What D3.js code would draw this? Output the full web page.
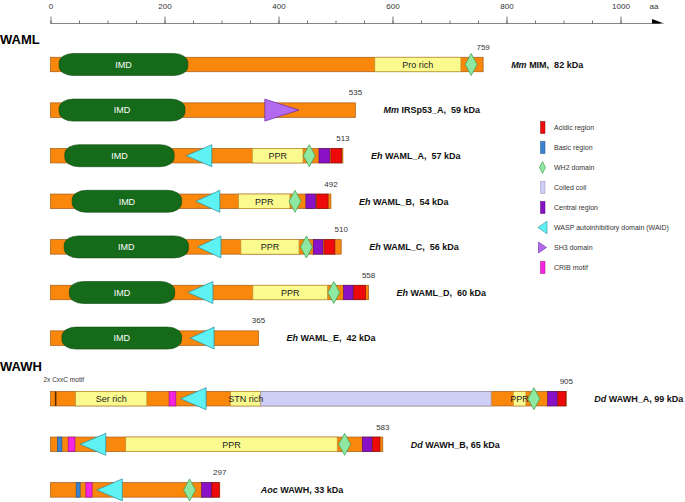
<!DOCTYPE html>
<html>
<head>
<meta charset="utf-8">
<script src="https://cdn.jsdelivr.net/npm/d3@7"></script>
<style>
  html, body { margin: 0; padding: 0; background: #fff; }
  svg { display: block; font-family: "Liberation Sans", Arial, sans-serif; }
  text { white-space: pre; }
</style>
</head>
<body>
<svg id="chart" width="685" height="502"></svg>
<script>
// ---------------- DATA ----------------
const proteinIds   = ["MIM", "IRSp53_A", "WAML_A", "WAML_B", "WAML_C", "WAML_D", "WAML_E", "WAWH_A", "WAWH_B", "AocWAWH"];
const proteinGroup = ["WAML", "WAML", "WAML", "WAML", "WAML", "WAML", "WAML", "WAWH", "WAWH", "WAWH"];
const species      = ["Mm", "Mm", "Eh", "Eh", "Eh", "Eh", "Eh", "Dd", "Dd", "Aoc"];
const labelTails   = [" MIM,  82 kDa", " IRSp53_A,  59 kDa", " WAML_A,  57 kDa", " WAML_B,  54 kDa", " WAML_C,  56 kDa",
                      " WAML_D,  60 kDa", " WAML_E,  42 kDa", " WAWH_A, 99 kDa", " WAWH_B, 65 kDa", " WAWH, 33 kDa"];
const lengths      = [759, 535, 513, 492, 510, 558, 365, 905, 583, 297];

// domains: [type, start aa, end aa]   (wh2 / cxxc : [type, position])
const domainsMIM    = [["imd", 15, 241], ["pro", 569, 720], ["wh2", 738]];
const domainsIRSp53 = [["imd", 15, 236], ["sh3", 376, 436]];
const domainsWAML_A = [["imd", 25, 217], ["waid", 238, 283], ["ppr", 354, 443], ["wh2", 454], ["central", 471, 490], ["acidic", 492, 511]];
const domainsWAML_B = [["imd", 38, 230], ["waid", 255, 297], ["ppr", 330, 420], ["wh2", 429], ["central", 448, 465], ["acidic", 467, 487]];
const domainsWAML_C = [["imd", 24, 242], ["waid", 258, 299], ["ppr", 334, 436], ["wh2", 449], ["central", 461, 478], ["acidic", 480, 499]];
const domainsWAML_D = [["imd", 33, 218], ["waid", 241, 285], ["ppr", 355, 486], ["wh2", 497], ["central", 514, 531], ["acidic", 532, 553]];
const domainsWAML_E = [["imd", 20, 230], ["waid", 245, 287]];
const domainsWAWH_A = [["cxxc", 9], ["ser", 44, 169], ["crib", 208, 220], ["waid", 228, 273], ["stn", 316, 369], ["coil", 369, 773],
                       ["ppr", 812, 834], ["wh2", 848], ["central", 872, 889], ["acidic", 890, 904]];
const domainsWAWH_B = [["basic", 12, 20], ["crib", 31, 43], ["waid", 52, 97], ["ppr", 132, 503], ["wh2", 516], ["central", 547, 564], ["acidic", 565, 578]];
const domainsAoc    = [["basic", 45, 52], ["crib", 62, 73], ["waid", 81, 126], ["wh2", 244], ["central", 265, 283], ["acidic", 283, 296]];
const proteinDomains = [domainsMIM, domainsIRSp53, domainsWAML_A, domainsWAML_B, domainsWAML_C, domainsWAML_D, domainsWAML_E,
                        domainsWAWH_A, domainsWAWH_B, domainsAoc];

const domainText = { imd: "IMD", pro: "Pro rich", ppr: "PPR", ser: "Ser rich", stn: "STN rich" };

const axisLabelTicks = [0, 200, 400, 600, 800, 1000];
const axisMinorTicks = d3.range(0, 1001, 50);
const groupTitles    = ["WAML", "WAWH"];

const legendTypes  = ["acidic", "basic", "wh2", "coil", "central", "waid", "sh3", "crib"];
const legendLabels = ["Acidic region", "Basic region", "WH2 domain", "Coiled coil", "Central region",
                      "WASP autoinhibitiory domain (WAID)", "SH3 domain", "CRIB motif"];

// ---------------- STYLE ----------------
const fills = {
  bar: "#F9870C", imd: "#156B1A", pro: "#FAFA8E", ppr: "#FAFA8E", ser: "#FAFA8E", stn: "#FAFA8E",
  coil: "#CFCFF5", acidic: "#EE0A0A", basic: "#3A82D2", central: "#8A12C6", crib: "#F424E0",
  waid: "#5EF2F5", sh3: "#B26AF0", wh2: "#8EE8A2", cxxc: "#5a2a06"
};
const strokes = {
  bar: "#a45a14", imd: "#0d4a10", pro: "#b08a30", ppr: "#b08a30", ser: "#b08a30", stn: "#b08a30",
  coil: "#9090b8", acidic: "#7a1010", basic: "#20507f", central: "#4a0a70", crib: "#9a1080",
  waid: "#2a8a99", sh3: "#6a2aa0", wh2: "#3a9a4a"
};

const svg = d3.select("#chart");
const x = d3.scaleLinear().domain([0, 1000]).range([50.5, 620.5]);
const rowY = i => 64.5 + i * 45.6 + (proteinGroup[i] === "WAWH" ? 15 : 0);
const BAR_H = 14.5, BIG_H = 11;

// ---------------- AXIS ----------------
const axisY = 23.5;
const axisG = svg.append("g").attr("transform", `translate(0,${axisY})`);
axisG.append("line").attr("x1", x(0)).attr("x2", 660).attr("stroke", "#666").attr("stroke-width", 0.8);
axisG.append("path").attr("d", "M652,-4.5 L664,0 L652,0 Z").attr("fill", "#000");
const minor = axisG.append("g").call(d3.axisTop(x).tickValues(axisMinorTicks).tickSize(3).tickFormat(""));
const major = axisG.append("g").call(d3.axisTop(x).tickValues(axisLabelTicks).tickSize(7).tickPadding(7.5).tickFormat(d3.format("d")));
[minor, major].forEach(g => {
  g.select(".domain").remove();
  g.selectAll(".tick line").attr("stroke", "#555").attr("stroke-width", 0.8);
});
major.selectAll(".tick text").attr("font-size", 8).attr("fill", "#333").attr("font-family", "Liberation Sans, Arial, sans-serif");
axisG.append("text").attr("x", 654).attr("y", -7.5 - 7).attr("text-anchor", "middle")
  .attr("font-size", 8).attr("fill", "#333").text("aa");

// ---------------- GROUP TITLES ----------------
svg.append("text").attr("x", 0).attr("y", 44).attr("font-size", 13).attr("font-weight", "bold").text(groupTitles[0]);
svg.append("text").attr("x", 0).attr("y", 371).attr("font-size", 13).attr("font-weight", "bold").text(groupTitles[1]);

// ---------------- PROTEINS ----------------
proteinIds.forEach((id, i) => {
  const cy = rowY(i);
  const g = svg.append("g");
  const L = lengths[i];
  g.append("rect").attr("x", x(0)).attr("y", cy - BAR_H / 2).attr("width", x(L) - x(0)).attr("height", BAR_H)
    .attr("fill", fills.bar).attr("stroke", strokes.bar).attr("stroke-width", 0.7);

  const doms = proteinDomains[i];
  const rectTypes = ["pro", "ppr", "ser", "stn", "coil", "acidic", "basic", "central", "crib"];
  // flat rectangular regions
  doms.filter(d => rectTypes.includes(d[0])).forEach(d => {
    g.append("rect").attr("x", x(d[1])).attr("y", cy - BAR_H / 2).attr("width", x(d[2]) - x(d[1])).attr("height", BAR_H)
      .attr("fill", fills[d[0]]).attr("stroke", strokes[d[0]]).attr("stroke-width", 0.6);
  });
  // CxxC motif line
  doms.filter(d => d[0] === "cxxc").forEach(d => {
    g.append("line").attr("x1", x(d[1])).attr("x2", x(d[1])).attr("y1", cy - BAR_H / 2).attr("y2", cy + BAR_H / 2)
      .attr("stroke", fills.cxxc).attr("stroke-width", 1.6);
    svg.append("text").attr("x", 43.5).attr("y", cy - 16.5).attr("font-size", 6.5).attr("fill", "#333").text("2x CxxC motif");
  });
  // IMD
  doms.filter(d => d[0] === "imd").forEach(d => {
    g.append("rect").attr("x", x(d[1])).attr("y", cy - BIG_H).attr("width", x(d[2]) - x(d[1])).attr("height", 2 * BIG_H)
      .attr("rx", 14).attr("ry", 9).attr("fill", fills.imd).attr("stroke", strokes.imd).attr("stroke-width", 0.6);
  });
  // text labels for domains
  doms.filter(d => domainText[d[0]]).forEach(d => {
    g.append("text").attr("x", (x(d[1]) + x(d[2])) / 2).attr("y", cy + 3.3).attr("text-anchor", "middle")
      .attr("font-size", 9).attr("fill", d[0] === "imd" ? "#fff" : "#222").text(domainText[d[0]]);
  });
  // WAID triangle (pointing left)
  doms.filter(d => d[0] === "waid").forEach(d => {
    g.append("path").attr("d", `M${x(d[1])},${cy} L${x(d[2])},${cy - BIG_H} L${x(d[2])},${cy + BIG_H} Z`)
      .attr("fill", fills.waid).attr("stroke", strokes.waid).attr("stroke-width", 0.7);
  });
  // SH3 triangle (pointing right)
  doms.filter(d => d[0] === "sh3").forEach(d => {
    g.append("path").attr("d", `M${x(d[1])},${cy - BIG_H} L${x(d[2])},${cy} L${x(d[1])},${cy + BIG_H} Z`)
      .attr("fill", fills.sh3).attr("stroke", strokes.sh3).attr("stroke-width", 0.7);
  });
  // WH2 diamonds
  doms.filter(d => d[0] === "wh2").forEach(d => {
    const px = x(d[1]);
    g.append("path").attr("d", `M${px},${cy - BIG_H} L${px + 6},${cy} L${px},${cy + BIG_H} L${px - 6},${cy} Z`)
      .attr("fill", fills.wh2).attr("stroke", strokes.wh2).attr("stroke-width", 0.7);
  });

  // length label
  g.append("text").attr("x", x(L)).attr("y", cy - BAR_H / 2 - 7.5).attr("text-anchor", "middle")
    .attr("font-size", 8).attr("fill", "#333").text(L);

  // name label
  const gap = id === "AocWAWH" ? 41 : 28;
  const t = g.append("text").attr("x", x(L) + gap).attr("y", cy + 3.3).attr("font-size", 9).attr("font-weight", "bold").attr("fill", "#111");
  t.append("tspan").attr("font-style", "italic").text(species[i]);
  t.append("tspan").text(labelTails[i]);
});

// ---------------- LEGEND ----------------
const legend = svg.append("g");
legendTypes.forEach((type, i) => {
  const cy = 127.5 + i * 20;
  const lg = legend.append("g");
  if (type === "wh2") {
    lg.append("path").attr("d", `M542.5,${cy - 6} L545.5,${cy} L542.5,${cy + 6} L539.5,${cy} Z`)
      .attr("fill", fills.wh2).attr("stroke", strokes.wh2).attr("stroke-width", 0.6);
  } else if (type === "waid") {
    lg.append("path").attr("d", `M538,${cy} L547,${cy - 6.3} L547,${cy + 6.3} Z`)
      .attr("fill", fills.waid).attr("stroke", strokes.waid).attr("stroke-width", 0.6);
  } else if (type === "sh3") {
    lg.append("path").attr("d", `M538.5,${cy - 5.5} L546.5,${cy} L538.5,${cy + 5.5} Z`)
      .attr("fill", fills.sh3).attr("stroke", strokes.sh3).attr("stroke-width", 0.6);
  } else {
    lg.append("rect").attr("x", 540.5).attr("y", cy - 6).attr("width", 4.5).attr("height", 12)
      .attr("fill", fills[type]).attr("stroke", strokes[type]).attr("stroke-width", 0.5);
  }
  lg.append("text").attr("x", 554).attr("y", cy + 2.5).attr("font-size", 7).attr("fill", "#333").text(legendLabels[i]);
});
</script>
</body>
</html>
